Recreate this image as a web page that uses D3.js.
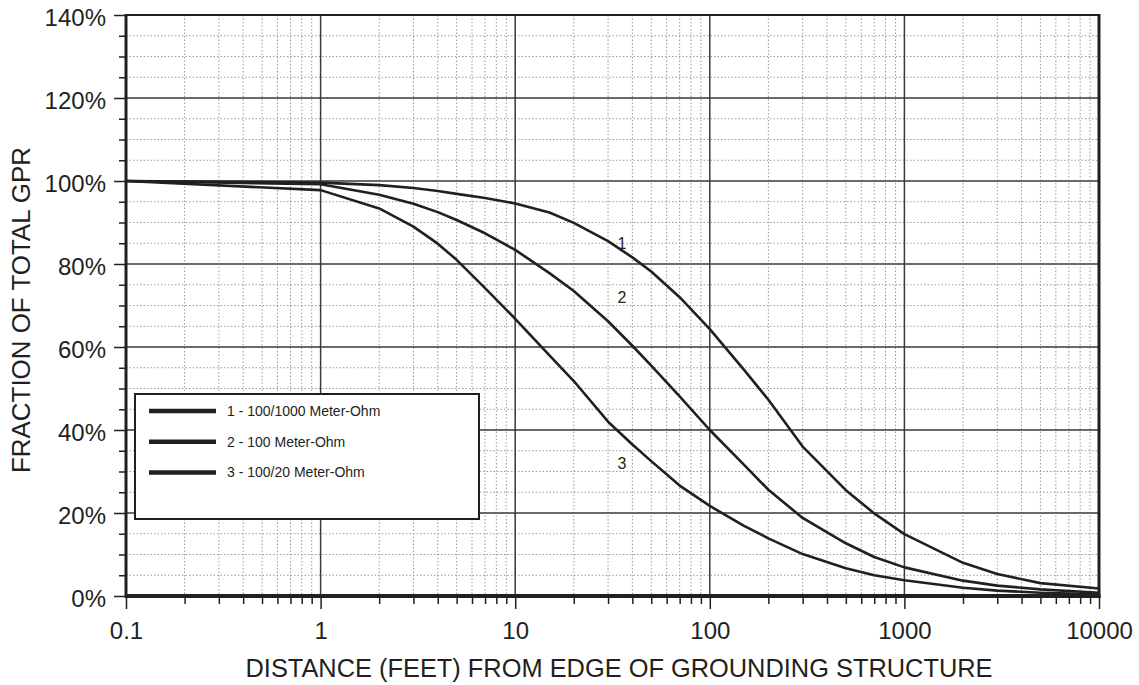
<!DOCTYPE html>
<html>
<head>
<meta charset="utf-8">
<script src="https://cdnjs.cloudflare.com/ajax/libs/d3/7.8.5/d3.min.js"></script>
<style>
  html, body { margin: 0; padding: 0; background: #fff; }
  svg { display: block; font-family: "Liberation Sans", Arial, sans-serif; }
</style>
</head>
<body>
<svg id="chart" width="1139" height="685"></svg>
<script>
// ---------- data ----------
const distances = [0.1, 1, 2, 3, 4, 5, 7, 10, 15, 20, 30, 40, 50, 70, 100, 150, 200, 300, 500, 700, 1000, 2000, 3000, 5000, 10000];
const curve1 = [100, 99.6, 99.0, 98.3, 97.6, 96.9, 95.9, 94.6, 92.4, 89.9, 85.5, 81.6, 78.2, 72.0, 64.3, 54.5, 47.3, 36.0, 25.5, 19.9, 14.9, 8.0, 5.3, 3.1, 1.8];
const curve2 = [100, 99.2, 96.7, 94.5, 92.5, 90.6, 87.4, 83.4, 77.8, 73.5, 66.2, 60.3, 55.5, 48.1, 40.0, 31.6, 25.6, 18.8, 12.7, 9.4, 6.9, 3.7, 2.5, 1.6, 0.8];
const curve3 = [100, 97.8, 93.4, 89.0, 84.9, 81.0, 74.2, 66.8, 58.0, 51.8, 42.0, 36.5, 32.5, 26.6, 21.7, 16.9, 13.9, 10.1, 6.7, 5.0, 3.8, 2.0, 1.3, 0.8, 0.4];
const seriesNames = ["1 - 100/1000 Meter-Ohm", "2 - 100 Meter-Ohm", "3 - 100/20 Meter-Ohm"];
const curveLabels = ["1", "2", "3"];
const curveLabelX = [35, 35, 35];
const curveLabelY = [83.6, 70.5, 30.6];
const xTickValues = [0.1, 1, 10, 100, 1000, 10000];
const xTickLabels = ["0.1", "1", "10", "100", "1000", "10000"];
const yTickValues = [0, 20, 40, 60, 80, 100, 120, 140];
const yTickLabels = ["0%", "20%", "40%", "60%", "80%", "100%", "120%", "140%"];
const xTitle = "DISTANCE (FEET) FROM EDGE OF GROUNDING STRUCTURE";
const yTitle = "FRACTION OF TOTAL GPR";

// ---------- layout ----------
const L = 126, R = 1099, T = 15, B = 596;
const ink = "#231f20";
const svg = d3.select("#chart");
const x = d3.scaleLog().domain([0.1, 10000]).range([L, R]);
const y = d3.scaleLinear().domain([0, 140]).range([B, T]);

// minor values
const xMinor = [];
for (let e = -1; e < 4; e++) for (let k = 2; k <= 9; k++) xMinor.push(k * Math.pow(10, e));
const yMinor = d3.range(5, 140, 5).filter(v => v % 20 !== 0);

// ---------- grid ----------
const grid = svg.append("g");
grid.selectAll(".ymin").data(yMinor).join("line")
  .attr("x1", L).attr("x2", R).attr("y1", d => y(d)).attr("y2", d => y(d))
  .attr("stroke", "#9a9a9a").attr("stroke-width", 1).attr("stroke-dasharray", "1.5,2");
grid.selectAll(".xmin").data(xMinor).join("line")
  .attr("x1", d => x(d)).attr("x2", d => x(d)).attr("y1", T).attr("y2", B)
  .attr("stroke", "#9a9a9a").attr("stroke-width", 1).attr("stroke-dasharray", "1.5,2");
grid.selectAll(".ymaj").data(yTickValues.slice(1, -1)).join("line")
  .attr("x1", L).attr("x2", R).attr("y1", d => y(d)).attr("y2", d => y(d))
  .attr("stroke", "#6a6a6a").attr("stroke-width", 2);
grid.selectAll(".xmaj").data(xTickValues.slice(1, -1)).join("line")
  .attr("x1", d => x(d)).attr("x2", d => x(d)).attr("y1", T).attr("y2", B)
  .attr("stroke", "#3a3a3a").attr("stroke-width", 1.5);

// ---------- axes ----------
const yAxisMinor = d3.axisLeft(y).tickValues(yMinor).tickSize(7).tickFormat("");
svg.append("g").attr("transform", `translate(${L},0)`).call(yAxisMinor)
  .call(g => g.select(".domain").remove())
  .call(g => g.selectAll("line").attr("stroke", ink).attr("stroke-width", 1.5));
const yAxis = d3.axisLeft(y).tickValues(yTickValues).tickSize(12).tickPadding(8)
  .tickFormat((d, i) => yTickLabels[i]);
svg.append("g").attr("transform", `translate(${L},0)`).call(yAxis)
  .call(g => g.select(".domain").remove())
  .call(g => g.selectAll("line").attr("stroke", ink).attr("stroke-width", 1.5))
  .call(g => g.selectAll("text").attr("fill", ink).attr("font-size", 24)
    .attr("font-family", "Liberation Sans, Arial, sans-serif").attr("dy", "0.42em"));

const xAxisMinor = d3.axisBottom(x).tickValues(xMinor).tickSize(8).tickFormat("");
svg.append("g").attr("transform", `translate(0,${B})`).call(xAxisMinor)
  .call(g => g.select(".domain").remove())
  .call(g => g.selectAll("line").attr("stroke", ink).attr("stroke-width", 1.5));
const xAxis = d3.axisBottom(x).tickValues(xTickValues).tickSize(13).tickPadding(13)
  .tickFormat((d, i) => xTickLabels[i]);
svg.append("g").attr("transform", `translate(0,${B})`).call(xAxis)
  .call(g => g.select(".domain").remove())
  .call(g => g.selectAll("line").attr("stroke", ink).attr("stroke-width", 1.5))
  .call(g => g.selectAll("text").attr("fill", ink).attr("font-size", 24)
    .attr("font-family", "Liberation Sans, Arial, sans-serif"));

// ---------- frame ----------
svg.append("line").attr("x1", L).attr("x2", R).attr("y1", T).attr("y2", T).attr("stroke", ink).attr("stroke-width", 2);
svg.append("line").attr("x1", L).attr("x2", L).attr("y1", T - 1).attr("y2", B + 2).attr("stroke", ink).attr("stroke-width", 3);
svg.append("line").attr("x1", R).attr("x2", R).attr("y1", T - 1).attr("y2", B + 2).attr("stroke", ink).attr("stroke-width", 3);

// ---------- curves ----------
const line = d3.line().x(d => x(d[0])).y(d => y(d[1])).curve(d3.curveLinear);
[curve1, curve2, curve3].forEach(c => {
  svg.append("path").datum(distances.map((d, i) => [d, c[i]]))
    .attr("d", line).attr("fill", "none").attr("stroke", ink)
    .attr("stroke-width", 2.6).attr("stroke-linejoin", "round");
});
svg.append("line").attr("x1", L).attr("x2", R + 1.5).attr("y1", B).attr("y2", B).attr("stroke", ink).attr("stroke-width", 4);

svg.selectAll(".clabel").data(curveLabels).join("text")
  .attr("x", (d, i) => x(curveLabelX[i]) + 1).attr("y", (d, i) => y(curveLabelY[i]))
  .attr("text-anchor", "middle").attr("font-size", 16).attr("fill", ink)
  .text(d => d);

// ---------- legend ----------
const lg = svg.append("g");
lg.append("rect").attr("x", 135).attr("y", 394).attr("width", 344).attr("height", 125)
  .attr("fill", "#fff").attr("stroke", ink).attr("stroke-width", 2);
seriesNames.forEach((n, i) => {
  const yy = 411 + i * 30.7;
  lg.append("line").attr("x1", 149).attr("x2", 216).attr("y1", yy).attr("y2", yy)
    .attr("stroke", ink).attr("stroke-width", 4.5);
  lg.append("text").attr("x", 227).attr("y", yy + 5).attr("font-size", 14).attr("fill", ink).text(n);
});

// ---------- titles ----------
svg.append("text").attr("x", 619).attr("y", 677).attr("text-anchor", "middle")
  .attr("font-size", 25).attr("fill", ink)
  .attr("textLength", 747).attr("lengthAdjust", "spacingAndGlyphs").text(xTitle);
svg.append("text").attr("transform", "translate(30,310) rotate(-90)").attr("text-anchor", "middle")
  .attr("font-size", 25).attr("fill", ink)
  .attr("textLength", 326).attr("lengthAdjust", "spacingAndGlyphs").text(yTitle);
</script>
</body>
</html>
